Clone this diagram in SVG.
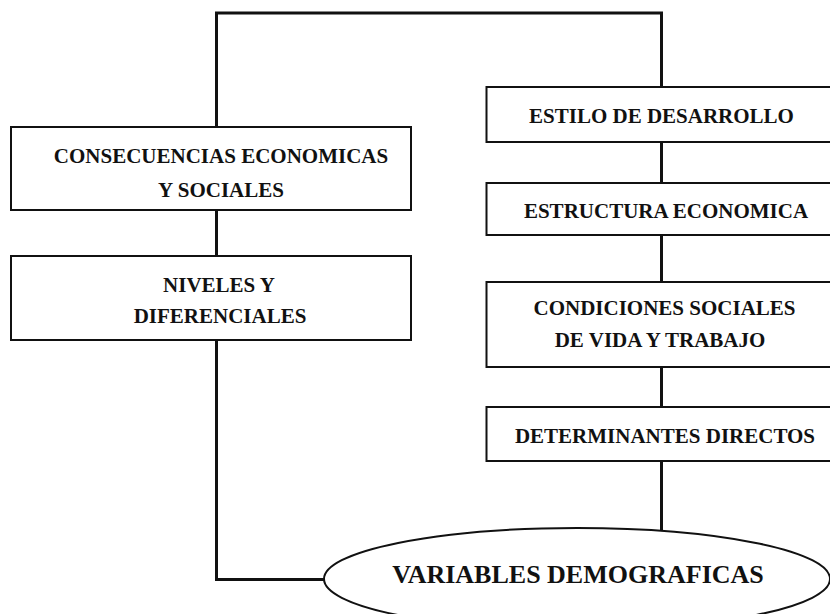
<svg xmlns="http://www.w3.org/2000/svg" width="830" height="614" viewBox="0 0 830 614">
<style>
.box{fill:#fff;stroke:#111;stroke-width:2}
.conn{fill:none;stroke:#111;stroke-width:3;stroke-linejoin:miter;stroke-linecap:square}
.t{font-family:"Liberation Serif","Times New Roman",serif;font-weight:bold;font-size:21px;fill:#111;text-anchor:middle}
.tb{font-size:26px}
</style>
<rect width="830" height="614" fill="#fff"/>
<g id="connectors">
<polyline class="conn" points="216.5,127 216.5,13 661.5,13 661.5,87"/>
<line class="conn" x1="216.5" y1="210" x2="216.5" y2="256"/>
<polyline class="conn" points="216.5,340 216.5,579.5 324,579.5"/>
<line class="conn" x1="661.5" y1="142" x2="661.5" y2="183"/>
<line class="conn" x1="661.5" y1="235" x2="661.5" y2="282"/>
<line class="conn" x1="661.5" y1="367" x2="661.5" y2="407"/>
<line class="conn" x1="661.5" y1="461" x2="661.5" y2="530"/>
</g>
<g id="consecuencias">
<rect class="box" x="11" y="127" width="400" height="83"/>
<text class="t" x="221" y="163">CONSECUENCIAS ECONOMICAS</text>
<text class="t" x="221" y="197">Y SOCIALES</text>
</g>
<g id="niveles">
<rect class="box" x="11" y="256" width="400" height="84"/>
<text class="t" x="219" y="292">NIVELES Y</text>
<text class="t" x="220" y="323">DIFERENCIALES</text>
</g>
<g id="estilo">
<rect class="box" x="486.5" y="87" width="360" height="55"/>
<text class="t" x="661.5" y="123">ESTILO DE DESARROLLO</text>
</g>
<g id="estructura">
<rect class="box" x="486.5" y="183" width="360" height="52"/>
<text class="t" x="666" y="218">ESTRUCTURA ECONOMICA</text>
</g>
<g id="condiciones">
<rect class="box" x="486.5" y="282" width="360" height="85"/>
<text class="t" x="664.5" y="315">CONDICIONES SOCIALES</text>
<text class="t" x="660" y="347">DE VIDA Y TRABAJO</text>
</g>
<g id="determinantes">
<rect class="box" x="486.5" y="407" width="360" height="54"/>
<text class="t" x="665" y="443">DETERMINANTES DIRECTOS</text>
</g>
<g id="variables">
<ellipse class="box" cx="577" cy="579" rx="253" ry="51"/>
<text class="t tb" x="578" y="583">VARIABLES DEMOGRAFICAS</text>
</g>
</svg>
